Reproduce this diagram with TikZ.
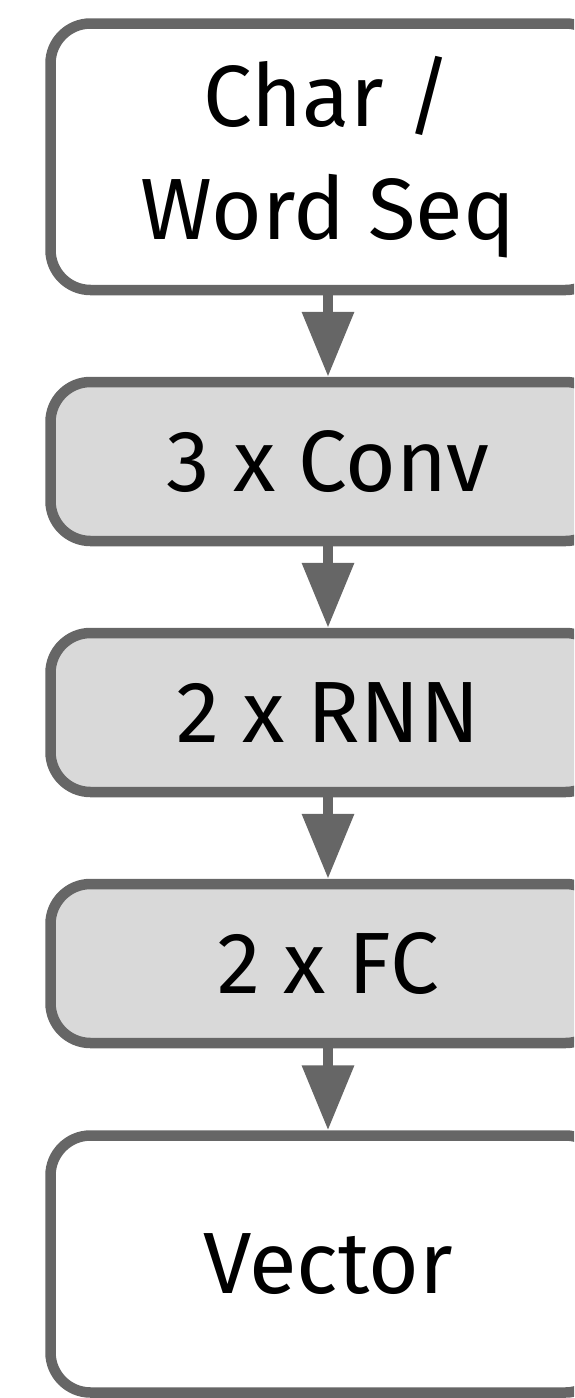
\documentclass[tikz,border=0pt]{standalone}
\usepackage{fontspec}
\setmainfont{Fira Sans}
\usetikzlibrary{arrows.meta}
\definecolor{strk}{HTML}{666666}
\definecolor{boxfill}{HTML}{D9D9D9}
\tikzset{
  blockbase/.style={draw=strk, line width=10.5pt, rounded corners=40pt,
    minimum width=555pt, align=center, inner sep=0pt,
    font=\fontsize{87}{113}\selectfont, text=black},
  whitebox/.style={blockbase, fill=white},
  graybox/.style={blockbase, fill=boxfill, minimum height=159pt},
  flowarrow/.style={draw=strk, line width=10pt,
    -{Triangle[width=50pt,length=65pt]}}
}
\begin{document}
\begin{tikzpicture}[x=1pt,y=-1pt]
\useasboundingbox (0,0) rectangle (574,1398);
\clip (0,0) rectangle (574,1398);
\node[whitebox, minimum height=266.5pt] (seq) at (328,156.75) {Char /\\Word Seq};
\node[graybox] (conv) at (328,461.5) {3 x Conv};
\node[graybox] (rnn) at (328,712.5) {2 x RNN};
\node[graybox] (fc) at (328,963.5) {2 x FC};
\node[whitebox, minimum height=257pt] (vec) at (328,1264) {Vector};
\draw[flowarrow] (seq.south) -- (conv.north);
\draw[flowarrow] (conv.south) -- (rnn.north);
\draw[flowarrow] (rnn.south) -- (fc.north);
\draw[flowarrow] (fc.south) -- (vec.north);
\end{tikzpicture}
\end{document}
